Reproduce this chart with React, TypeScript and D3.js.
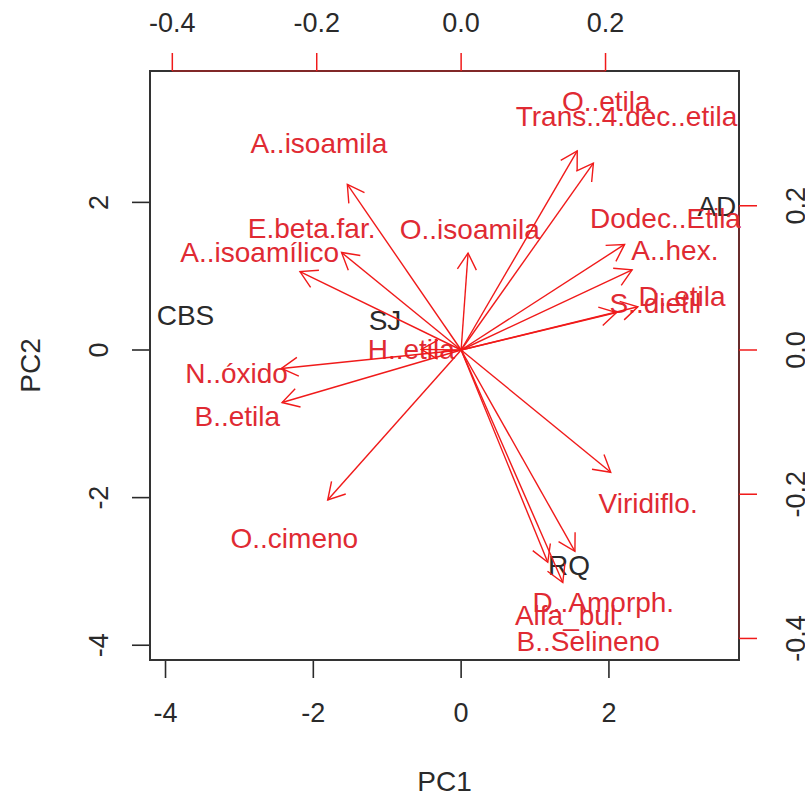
import React from "react";
import * as d3 from "d3";

// Variable loadings (label positions, loading scale on top/right axes)
const variables = [
  "A..isoamila",
  "E.beta.far.",
  "A..isoamílico",
  "O..isoamila",
  "O..etila",
  "Trans..4.dec..etila",
  "Dodec..Etila",
  "A..hex.",
  "D..etila",
  "S..dietil",
  "H..etila",
  "N..óxido",
  "B..etila",
  "O..cimeno",
  "Viridiflo.",
  "D..Amorph.",
  "Alfa_bul.",
  "B..Selineno",
];
const loadPC1 = [
  -0.197, -0.207, -0.279, 0.012, 0.201, 0.229, 0.283, 0.296, 0.306, 0.269,
  -0.069, -0.311, -0.31, -0.231, 0.259, 0.197, 0.15, 0.176,
];
const loadPC2 = [
  0.287, 0.169, 0.136, 0.168, 0.345, 0.324, 0.183, 0.139, 0.075, 0.065, 0.001,
  -0.032, -0.091, -0.26, -0.212, -0.349, -0.368, -0.403,
];

// Sample scores (bottom/left axes)
const samples = ["CBS", "SJ", "AD", "RQ"];
const scorePC1 = [-3.73, -1.03, 3.46, 1.46];
const scorePC2 = [0.47, 0.41, 1.95, -2.91];

const scoreTicks = [-4, -2, 0, 2];
const loadTicks = [-0.4, -0.2, 0.0, 0.2];

const W = 805;
const H = 796;
const box = { left: 150, top: 71, right: 739, bottom: 660 };
const ratio = 9.77; // score units per loading unit

const xDom = [-4.21, 3.76];
const yDom = [-4.2, 3.78];

const FONT = "'Liberation Sans', Arial, Helvetica, sans-serif";
const RED_TEXT = "#e02a33";
const RED_LINE = "#f01a1a";
const INK = "#2a2a2a";

export default function App() {
  const x = d3.scaleLinear().domain(xDom).range([box.left, box.right]);
  const y = d3.scaleLinear().domain(yDom).range([box.bottom, box.top]);
  const u = d3
    .scaleLinear()
    .domain([xDom[0] / ratio, xDom[1] / ratio])
    .range([box.left, box.right]);
  const v = d3
    .scaleLinear()
    .domain([yDom[0] / ratio, yDom[1] / ratio])
    .range([box.bottom, box.top]);

  const tick = 18;
  const fs = 27;
  const fmtLoad = (d: number) => d.toFixed(1);

  const ox = u(0);
  const oy = v(0);
  const headLen = 19;
  const headAng = Math.PI / 6;

  return (
    <svg
      width={W}
      height={H}
      style={{ position: "absolute", left: 0, top: 0, background: "#fff" }}
      fontFamily={FONT}
    >
      <rect x={0} y={0} width={W} height={H} fill="#fff" />

      {/* sample labels */}
      {samples.map((s, i) => (
        <text
          key={s}
          x={x(scorePC1[i])}
          y={y(scorePC2[i])}
          dy="0.36em"
          textAnchor="middle"
          fontSize={28}
          fill={INK}
        >
          {s}
        </text>
      ))}

      {/* bottom axis */}
      {scoreTicks.map((t) => (
        <g key={"b" + t}>
          <line
            x1={x(t)}
            x2={x(t)}
            y1={box.bottom}
            y2={box.bottom + tick}
            stroke={INK}
            strokeWidth={1.6}
          />
          <text
            x={x(t)}
            y={712}
            dy="0.36em"
            textAnchor="middle"
            fontSize={fs}
            fill={INK}
          >
            {t}
          </text>
        </g>
      ))}
      <line
        x1={x(scoreTicks[0])}
        x2={x(scoreTicks[scoreTicks.length - 1])}
        y1={box.bottom}
        y2={box.bottom}
        stroke={INK}
        strokeWidth={1.6}
      />

      {/* left axis */}
      {scoreTicks.map((t) => (
        <g key={"l" + t}>
          <line
            x1={box.left - tick}
            x2={box.left}
            y1={y(t)}
            y2={y(t)}
            stroke={INK}
            strokeWidth={1.6}
          />
          <text
            transform={`translate(98,${y(t)}) rotate(-90)`}
            dy="0.36em"
            textAnchor="middle"
            fontSize={fs}
            fill={INK}
          >
            {t}
          </text>
        </g>
      ))}

      {/* axis titles */}
      <text
        x={(box.left + box.right) / 2}
        y={781}
        dy="0.36em"
        textAnchor="middle"
        fontSize={28}
        fill={INK}
      >
        PC1
      </text>
      <text
        transform={`translate(30,${(box.top + box.bottom) / 2}) rotate(-90)`}
        dy="0.36em"
        textAnchor="middle"
        fontSize={28}
        fill={INK}
      >
        PC2
      </text>

      {/* plot frame */}
      <rect
        x={box.left}
        y={box.top}
        width={box.right - box.left}
        height={box.bottom - box.top}
        fill="none"
        stroke="#333"
        strokeWidth={2}
      />

      {/* top axis (loadings) */}
      <line
        x1={u(loadTicks[0])}
        x2={u(loadTicks[loadTicks.length - 1])}
        y1={box.top}
        y2={box.top}
        stroke={RED_LINE}
        strokeOpacity={0.55}
        strokeWidth={1.6}
      />
      {loadTicks.map((t) => (
        <g key={"t" + t}>
          <line
            x1={u(t)}
            x2={u(t)}
            y1={box.top - tick}
            y2={box.top}
            stroke={RED_LINE}
            strokeWidth={1.5}
          />
          <text
            x={u(t)}
            y={22}
            dy="0.36em"
            textAnchor="middle"
            fontSize={fs}
            fill={INK}
          >
            {fmtLoad(t)}
          </text>
        </g>
      ))}

      {/* right axis (loadings) */}
      <line
        x1={box.right}
        x2={box.right}
        y1={v(loadTicks[0])}
        y2={v(loadTicks[loadTicks.length - 1])}
        stroke={RED_LINE}
        strokeOpacity={0.35}
        strokeWidth={1.6}
      />
      {loadTicks.map((t) => (
        <g key={"r" + t}>
          <line
            x1={box.right}
            x2={box.right + tick}
            y1={v(t)}
            y2={v(t)}
            stroke={RED_LINE}
            strokeWidth={1.5}
          />
          <text
            transform={`translate(795,${v(t)}) rotate(-90)`}
            dy="0.36em"
            textAnchor="middle"
            fontSize={fs}
            fill={INK}
          >
            {fmtLoad(t)}
          </text>
        </g>
      ))}

      {/* variable labels */}
      {variables.map((name, i) => (
        <text
          key={"vl" + name}
          x={u(loadPC1[i])}
          y={v(loadPC2[i])}
          dy="0.36em"
          textAnchor="middle"
          fontSize={28}
          fill={RED_TEXT}
        >
          {name}
        </text>
      ))}

      {/* loading arrows, drawn to 0.8 of each label position */}
      {variables.map((name, i) => {
        const tx = u(loadPC1[i] * 0.8);
        const ty = v(loadPC2[i] * 0.8);
        const th = Math.atan2(ty - oy, tx - ox);
        const b1x = tx - headLen * Math.cos(th - headAng);
        const b1y = ty - headLen * Math.sin(th - headAng);
        const b2x = tx - headLen * Math.cos(th + headAng);
        const b2y = ty - headLen * Math.sin(th + headAng);
        return (
          <g key={"va" + name} stroke={RED_LINE} strokeWidth={1.4} fill="none">
            <line x1={ox} y1={oy} x2={tx} y2={ty} />
            <polyline points={`${b1x},${b1y} ${tx},${ty} ${b2x},${b2y}`} />
          </g>
        );
      })}
    </svg>
  );
}
